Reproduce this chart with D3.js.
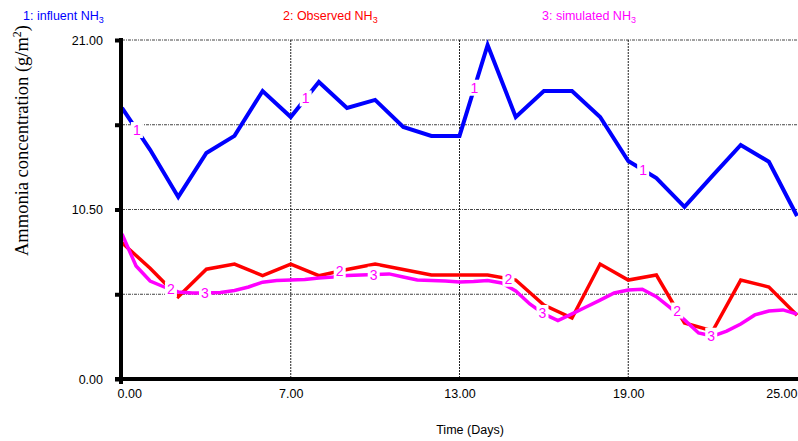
<!DOCTYPE html>
<html>
<head>
<meta charset="utf-8">
<script src="https://cdn.jsdelivr.net/npm/d3@7"></script>
<style>
  html, body { margin: 0; padding: 0; background: #fff; }
  svg { display: block; font-family: "Liberation Sans", Arial, sans-serif; }
</style>
</head>
<body>
<svg id="chart" width="798" height="441"></svg>
<script>
// Daily sample days and half-day simulation steps
const days = [1,2,3,4,5,6,7,8,9,10,11,12,13,14,15,16,17,18,19,20,21,22,23,24,25];
const simDays = d3.range(1, 25.001, 0.5);

// 1: influent NH3 (g/m2)
const influent = [16.8,14.2,11.28,14.0,15.06,17.84,16.23,18.4,16.79,17.29,15.61,15.06,15.06,
                  20.69,16.23,17.84,17.84,16.23,13.5,12.45,10.66,12.6,14.5,13.46,10.1];
// 2: observed NH3 (g/m2)
const observed = [8.44,6.86,5.10,6.80,7.12,6.40,7.11,6.40,6.78,7.12,6.78,6.44,6.44,
                  6.44,6.13,4.58,3.78,7.12,6.13,6.44,3.47,2.97,6.13,5.70,3.95];
// 3: simulated NH3 (g/m2), half-day steps
const simulated = [8.98,7.0,6.07,5.70,5.39,5.33,5.33,5.36,5.48,5.70,6.0,6.10,6.13,6.16,6.26,
                   6.32,6.41,6.44,6.47,6.51,6.32,6.13,6.10,6.07,6.01,6.04,6.10,5.95,5.45,4.65,
                   4.03,3.62,4.03,4.46,4.89,5.33,5.51,5.56,5.10,4.40,3.66,2.85,2.66,2.97,3.41,
                   3.97,4.21,4.28,4.03];

// Axis ticks and labels
const xTickDays = [1, 7, 13, 19, 25];
const xTickLabels = ["0.00", "7.00", "13.00", "19.00", "25.00"];
const yTickValues = [0, 5.25, 10.5, 15.75, 21];
const yTickLabels = ["0.00", "", "10.50", "", "21.00"];

// Series numbers written along each curve (day positions)
const labelDays = [
  [1.53, 7.53, 13.53, 19.53],
  [2.74, 8.74, 14.74, 20.74],
  [3.95, 9.95, 15.95, 21.95]
];
const seriesNames = ["1: influent NH", "2: Observed NH", "3: simulated NH"];
const colors = ["#0000ff", "#ff0000", "#ff00ff"];
const widths = [4, 3.5, 3.5];
const labelColor = "#ff00ff";

const svg = d3.select("#chart");
const x = d3.scaleLinear().domain([1, 25]).range([122, 797]);
const y = d3.scaleLinear().domain([0, 21]).range([379, 40]);

// Horizontal grid
svg.append("g").selectAll("line")
  .data(yTickValues.filter(v => v > 0))
  .join("line")
  .attr("x1", x(1)).attr("x2", 798)
  .attr("y1", d => y(d)).attr("y2", d => y(d))
  .attr("stroke", "#444").attr("stroke-width", 1)
  .attr("stroke-dasharray", "3,1,1,1");

// Vertical grid
svg.append("g").selectAll("line")
  .data(xTickDays.slice(1, -1))
  .join("line")
  .attr("x1", d => x(d)).attr("x2", d => x(d))
  .attr("y1", y(21)).attr("y2", y(0))
  .attr("stroke", "#222").attr("stroke-width", 1)
  .attr("stroke-dasharray", "2,1");

// Series lines
const series = [
  { xs: days, vs: influent },
  { xs: days, vs: observed },
  { xs: simDays, vs: simulated }
];
const line = d3.line().x(d => x(d[0])).y(d => y(d[1]));
series.forEach((s, i) => {
  svg.append("path")
    .datum(s.xs.map((d, k) => [d, s.vs[k]]))
    .attr("d", line)
    .attr("fill", "none")
    .attr("stroke", colors[i])
    .attr("stroke-width", widths[i])
    .attr("stroke-linejoin", "miter");
});

// Value of a series at an arbitrary day (linear between samples)
function valueAt(s, day) {
  const k = Math.max(0, Math.min(s.xs.length - 2, d3.bisectRight(s.xs, day) - 1));
  const t = (day - s.xs[k]) / (s.xs[k + 1] - s.xs[k]);
  return s.vs[k] + t * (s.vs[k + 1] - s.vs[k]);
}

// Curve number markers
series.forEach((s, i) => {
  labelDays[i].forEach(day => {
    const px = x(day), py = y(valueAt(s, day));
    svg.append("rect")
      .attr("x", px - 6).attr("y", py - 8)
      .attr("width", 12).attr("height", 16)
      .attr("fill", "#fff");
    svg.append("text")
      .attr("x", px).attr("y", py + 5)
      .attr("text-anchor", "middle")
      .attr("font-size", 14)
      .attr("fill", labelColor)
      .text(String(i + 1));
  });
});

// Y axis
const yAxis = svg.append("g")
  .attr("transform", `translate(${x(1) - 1},0)`)
  .call(d3.axisLeft(y).tickValues(yTickValues).tickSize(6).tickPadding(12)
    .tickFormat((d, k) => yTickLabels[k]));
yAxis.select(".domain").remove();
yAxis.selectAll(".tick line").attr("stroke", "#000").attr("stroke-width", 4);
yAxis.selectAll(".tick text")
  .attr("font-size", 12.5).attr("fill", "#000")
  .style("font-family", "'Liberation Sans', Arial, sans-serif");
yAxis.append("line")
  .attr("x1", 0).attr("x2", 0).attr("y1", y(21) - 2).attr("y2", y(0) + 5)
  .attr("stroke", "#000").attr("stroke-width", 4);

// X axis
const xAxis = svg.append("g")
  .attr("transform", `translate(0,${y(0)})`)
  .call(d3.axisBottom(x).tickValues(xTickDays).tickSize(0).tickPadding(10)
    .tickFormat((d, k) => xTickLabels[k]));
xAxis.select(".domain").remove();
xAxis.append("line")
  .attr("x1", x(1) - 7).attr("x2", 798).attr("y1", 0).attr("y2", 0)
  .attr("stroke", "#000").attr("stroke-width", 4);
xAxis.selectAll(".tick text")
  .attr("font-size", 12.5).attr("fill", "#000")
  .style("font-family", "'Liberation Sans', Arial, sans-serif")
  .attr("text-anchor", (d, k) => k === 0 ? "start" : (k === xTickDays.length - 1 ? "end" : "middle"))
  .attr("dx", (d, k) => k === 0 ? -5 : 0);

// Axis titles
svg.append("text")
  .attr("x", 470).attr("y", 434)
  .attr("text-anchor", "middle")
  .attr("font-size", 12.5)
  .text("Time (Days)");

const yTitle = svg.append("text")
  .attr("transform", "translate(28,256) rotate(-90)")
  .style("font-family", "'Liberation Serif', 'Times New Roman', serif")
  .attr("font-size", 18.5)
  .attr("fill", "#000");
yTitle.append("tspan").text("Ammonia concentration (g/m");
yTitle.append("tspan").attr("font-size", 12).attr("dy", -7).text("2");
yTitle.append("tspan").attr("dy", 7).text(")");

// Legend
const legendX = [23, 283, 542];
seriesNames.forEach((name, i) => {
  const t = svg.append("text")
    .attr("x", legendX[i]).attr("y", 20)
    .attr("font-size", 12.5)
    .attr("fill", colors[i]);
  t.append("tspan").text(name);
  t.append("tspan").attr("font-size", 9).attr("dy", 3).text("3");
});
</script>
</body>
</html>
